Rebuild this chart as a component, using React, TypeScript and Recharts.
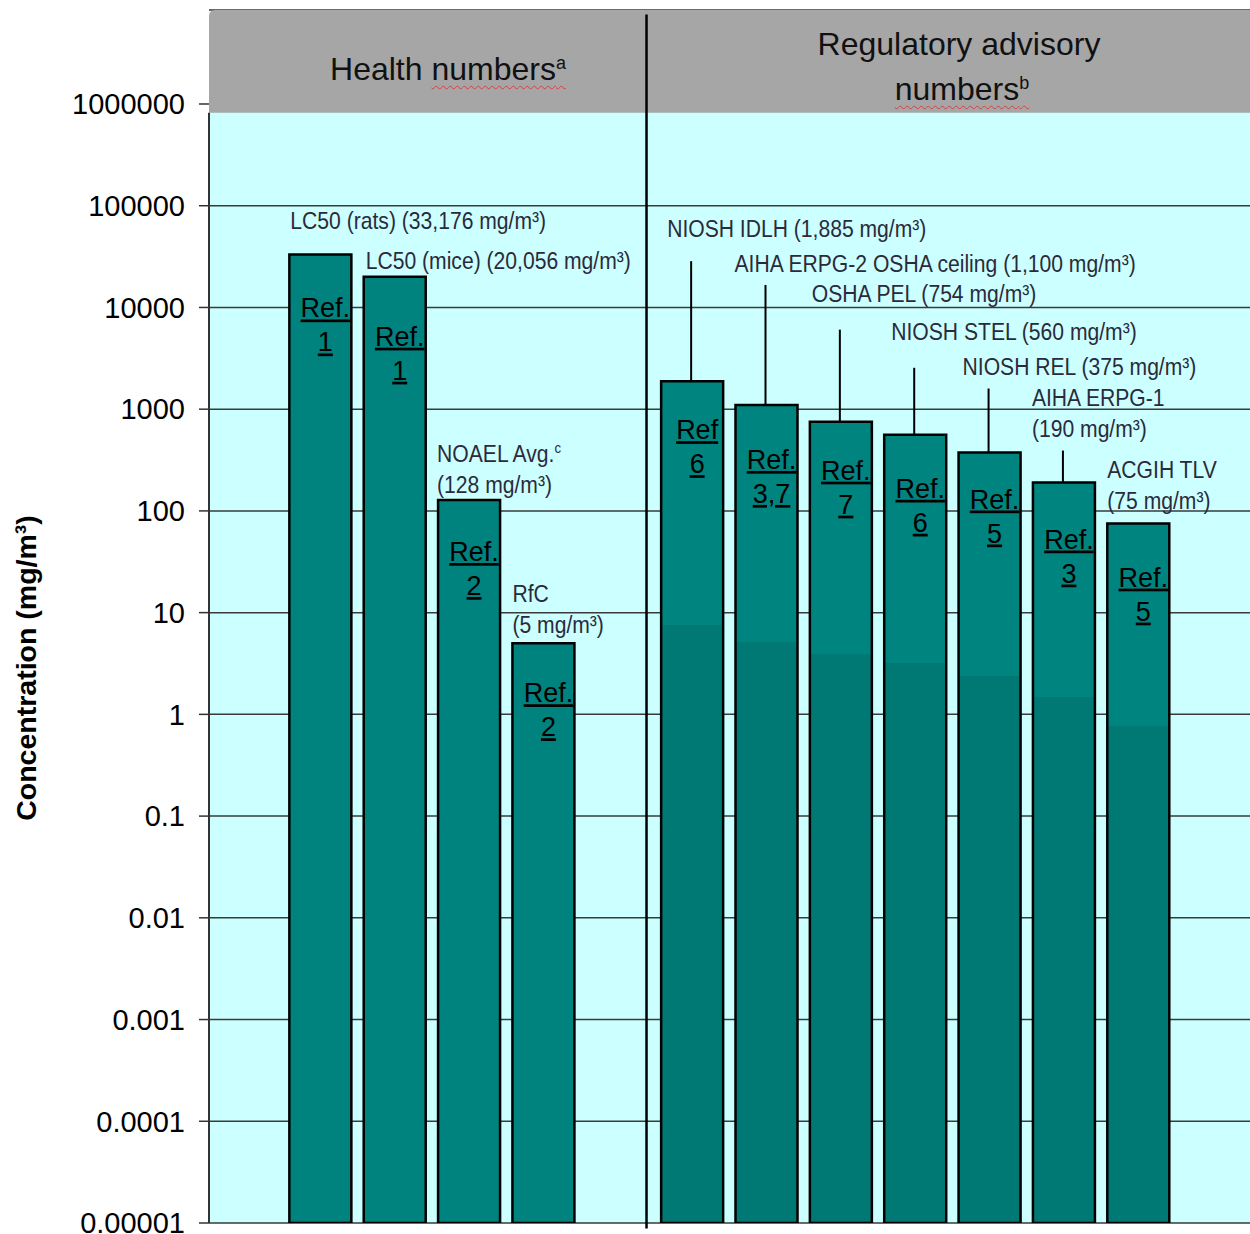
import React from "react";
import {
  Bar,
  BarChart,
  CartesianGrid,
  Cell,
  LabelList,
  ReferenceArea,
  ReferenceLine,
  XAxis,
  YAxis,
} from "recharts";

if (typeof document !== "undefined") document.body.style.margin = "0";

// slots 0, 5 and 13 are empty spacers around the two groups
const categories = [
  "", "LC50 (rats)", "LC50 (mice)", "NOAEL Avg.", "RfC", "",
  "NIOSH IDLH", "AIHA ERPG-2 OSHA ceiling", "OSHA PEL", "NIOSH STEL",
  "NIOSH REL", "AIHA ERPG-1", "ACGIH TLV", "",
];
const groups = [
  "", "health", "health", "health", "health", "",
  "regulatory", "regulatory", "regulatory", "regulatory",
  "regulatory", "regulatory", "regulatory", "",
];
const concentrations = [null, 33176, 20056, 128, 5, null, 1885, 1100, 754, 560, 375, 190, 75, null];
const annotations = [
  [], ["LC50 (rats) (33,176 mg/m³)"], ["LC50 (mice) (20,056 mg/m³)"],
  ["NOAEL Avg.^c", "(128 mg/m³)"], ["RfC", "(5 mg/m³)"], [],
  ["NIOSH IDLH (1,885 mg/m³)"], ["AIHA ERPG-2 OSHA ceiling (1,100  mg/m³)"],
  ["OSHA PEL (754 mg/m³)"], ["NIOSH STEL (560 mg/m³)"], ["NIOSH REL (375 mg/m³)"],
  ["AIHA ERPG-1", "(190 mg/m³)"], ["ACGIH TLV", "(75 mg/m³)"], [],
];
const refWords = ["", "Ref.", "Ref.", "Ref.", "Ref.", "", "Ref", "Ref.", "Ref.", "Ref.", "Ref.", "Ref.", "Ref.", ""];
const refNumbers = ["", "1", "1", "2", "2", "", "6", "3,7", "7", "6", "5", "3", "5", ""];

const tickValues = [0.00001, 0.0001, 0.001, 0.01, 0.1, 1, 10, 100, 1000, 10000, 100000, 1000000];
const tickLabels = ["0.00001", "0.0001", "0.001", "0.01", "0.1", "1", "10", "100", "1000", "10000", "100000", "1000000"];

// label placement relative to each bar's top-left corner (px)
const noteDx = [0, 1, 2, -1, 0, 0, 6, -1, 2, 7, 4, -1, 0, 0];
const noteDy = [0, -33, -16, -46, -49, 0, -152, -141, -128, -103, -86, -85, -54, 0];
const leaderLen = [0, 0, 0, 0, 0, 0, 120, 120, 92, 67, 64, 32, 0, 0];
const refDy = [0, 54, 60, 52, 50, 0, 49, 55, 49, 54, 47, 57, 54, 0];

const chartData = categories.map((name, i) => ({ name, value: concentrations[i], slot: i }));

const FONT = "'Liberation Sans', Arial, sans-serif";
const Y_TOP = Math.pow(10, 6.924);
const HEADER_BOTTOM = 821000;

function renderSup(line: string) {
  const parts = line.split("^");
  if (parts.length === 1) return line;
  return (
    <>
      {parts[0]}
      <tspan dy={-9} fontSize={15}>{parts[1]}</tspan>
    </>
  );
}

const renderBarNotes = (props: any) => {
  const { x, y, width, value } = props;
  const index = concentrations.indexOf(Number(value));
  if (index < 0) return null;
  const bx = Number(x);
  const by = Number(y);
  const cx = bx + Number(width) / 2;
  return (
    <g>
      {leaderLen[index] > 0 && (
        <line x1={cx - 1} x2={cx - 1} y1={by - leaderLen[index]} y2={by} stroke="#000" strokeWidth={2} />
      )}
      {annotations[index].map((line, i) => (
        <text
          key={i}
          transform={`translate(${bx + noteDx[index]},${by + noteDy[index] + i * 31 + 8}) scale(0.88,1)`}
          fontSize={24}
          fontFamily={FONT}
          fill="#2a2a3a"
        >
          {renderSup(line)}
        </text>
      ))}
      <text
        x={cx + 5}
        y={by + refDy[index] + 9}
        textAnchor="middle"
        fontSize={27}
        fontFamily={FONT}
        fill="#000"
        textDecoration="underline"
      >
        {refWords[index]}
      </text>
      <text
        x={cx + 5}
        y={by + refDy[index] + 43}
        textAnchor="middle"
        fontSize={27}
        fontFamily={FONT}
        fill="#000"
        textDecoration="underline"
      >
        {refNumbers[index]}
      </text>
    </g>
  );
};

export default function App() {
  const wavy = {
    textDecoration: "underline wavy #d84040",
    textDecorationThickness: "1px",
    textUnderlineOffset: "5px",
  };
  const headerText: React.CSSProperties = {
    position: "absolute",
    fontFamily: FONT,
    fontSize: 32,
    lineHeight: "32px",
    color: "#111",
    whiteSpace: "nowrap",
    transform: "translateX(-50%)",
  };
  const sup: React.CSSProperties = { fontSize: 18, verticalAlign: 11 };

  return (
    <div style={{ position: "relative", width: 1250, height: 1234, background: "#fff", overflow: "hidden" }}>
      <BarChart
        width={1250}
        height={1234}
        data={chartData}
        margin={{ top: 10, right: 0, bottom: 11, left: 0 }}
        barSize={62}
      >
        <defs>
          <linearGradient id="regFill" x1="0" y1="0" x2="0" y2="1">
            <stop offset="0" stopColor="#00847f" />
            <stop offset="0.29" stopColor="#00847f" />
            <stop offset="0.29" stopColor="#007874" />
            <stop offset="1" stopColor="#007874" />
          </linearGradient>
        </defs>
        <CartesianGrid horizontal vertical={false} fill="#ccffff" stroke="#3a3a3a" strokeWidth={1.5} />
        <XAxis dataKey="name" hide />
        <XAxis xAxisId="num" dataKey="slot" type="number" domain={[0, 14]} allowDataOverflow hide />
        <YAxis
          scale="log"
          domain={[0.00001, Y_TOP]}
          allowDataOverflow
          ticks={tickValues}
          tickFormatter={(v: number) => tickLabels[tickValues.indexOf(v)] ?? String(v)}
          width={209}
          axisLine={false}
          tickLine={{ stroke: "#333", strokeWidth: 1.5 }}
          tickSize={10}
          tickMargin={14}
          tick={{ fill: "#000", fontSize: 29, fontFamily: FONT }}
          interval={0}
        />
        <ReferenceArea
          y1={HEADER_BOTTOM}
          y2={Y_TOP}
          fill="#a6a6a6"
          fillOpacity={1}
          stroke="none"
          radius={[6, 0, 0, 0]}
          ifOverflow="visible"
        />
        <ReferenceLine
          xAxisId="num"
          segment={[{ x: 0, y: 0.00001 }, { x: 0, y: HEADER_BOTTOM }]}
          stroke="#333"
          strokeWidth={2}
          ifOverflow="visible"
        />
        <ReferenceLine
          xAxisId="num"
          segment={[{ x: 5.884, y: Math.pow(10, 6.88) }, { x: 5.884, y: Math.pow(10, -5.055) }]}
          stroke="#000"
          strokeWidth={2.5}
          ifOverflow="visible"
        />
        <Bar dataKey="value" stroke="#000" strokeWidth={2.5} isAnimationActive={false}>
          {chartData.map((d, i) => (
            <Cell key={i} fill={groups[i] === "regulatory" ? "url(#regFill)" : "#00827e"} />
          ))}
          <LabelList dataKey="value" content={renderBarNotes} />
        </Bar>
      </BarChart>

      <div style={{ ...headerText, left: 448, top: 47 }}>
        Health <span style={wavy}>numbers<sup style={sup}>a</sup></span>
      </div>
      <div style={{ ...headerText, left: 959, top: 28 }}>Regulatory advisory</div>
      <div style={{ ...headerText, left: 962, top: 67 }}>
        <span style={wavy}>numbers<sup style={sup}>b</sup></span>
      </div>

      <svg width={60} height={1234} style={{ position: "absolute", left: 0, top: 0, pointerEvents: "none" }}>
        <text
          transform="translate(36,668) rotate(-90)"
          textAnchor="middle"
          fontFamily={FONT}
          fontWeight="bold"
          fontSize={28.5}
          fill="#000"
        >
          Concentration (mg/m³)
        </text>
      </svg>
    </div>
  );
}
